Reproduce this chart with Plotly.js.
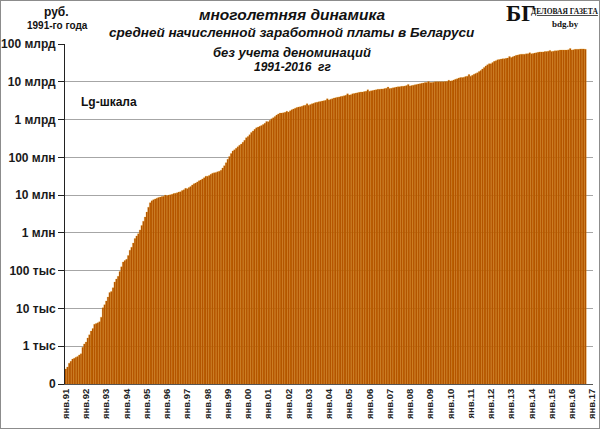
<!DOCTYPE html>
<html>
<head>
<meta charset="utf-8">
<script src="https://cdn.plot.ly/plotly-3.0.1.min.js"></script>
<style>
html,body{margin:0;padding:0;background:#fff;}
#wrap{position:relative;width:600px;height:429px;}
#chart{width:600px;height:429px;}
#frame{position:absolute;left:0;top:0;width:598px;height:427px;border:1px solid #8c8c8c;pointer-events:none;}
</style>
</head>
<body>
<div id="wrap"><div id="chart"></div><div id="frame"></div></div>
<script>
// Month names and years for categories
const monthNames = ['янв','фев','мар','апр','май','июн','июл','авг','сен','окт','ноя','дек'];
const firstYear = 1991, lastYear = 2017;

// Average nominal wage, rubles of 1991 (no denomination), monthly Jan 1991 - Sep 2016
const wages = [
  2.51e2,2.82e2,3.55e2,3.98e2,4.57e2,4.79e2,5.13e2,5.37e2,5.89e2,6.31e2,9.33e2,1.15e3,            // 1991
  1.29e3,1.66e3,2.00e3,2.51e3,2.95e3,3.80e3,3.98e3,4.17e3,4.47e3,5.89e3,1.05e4,1.26e4,            // 1992
  1.58e4,2.00e4,2.63e4,2.82e4,3.55e4,5.01e4,6.03e4,7.08e4,9.55e4,1.26e5,1.70e5,1.86e5,            // 1993
  2.00e5,2.51e5,3.47e5,4.17e5,5.37e5,7.08e5,8.32e5,9.55e5,1.20e6,1.58e6,2.04e6,2.63e6,            // 1994
  3.55e6,4.79e6,6.31e6,7.08e6,7.59e6,7.94e6,8.32e6,8.71e6,8.91e6,9.12e6,9.33e6,1.00e7,            // 1995
  9.55e6,1.00e7,1.02e7,1.05e7,1.10e7,1.12e7,1.15e7,1.20e7,1.23e7,1.32e7,1.38e7,1.51e7,            // 1996
  1.48e7,1.58e7,1.70e7,1.86e7,2.00e7,2.09e7,2.24e7,2.40e7,2.51e7,2.69e7,2.88e7,3.16e7,            // 1997
  3.16e7,3.31e7,3.55e7,3.80e7,3.89e7,3.98e7,4.17e7,4.27e7,4.57e7,5.25e7,6.03e7,7.24e7,            // 1998
  8.91e7,1.05e8,1.26e8,1.48e8,1.58e8,1.74e8,1.91e8,2.09e8,2.24e8,2.51e8,2.82e8,3.31e8,            // 1999
  3.55e8,3.98e8,4.57e8,5.01e8,5.50e8,6.03e8,6.31e8,6.61e8,6.92e8,7.41e8,7.94e8,8.91e8,            // 2000
  8.71e8,9.55e8,1.05e9,1.12e9,1.20e9,1.32e9,1.41e9,1.48e9,1.48e9,1.51e9,1.55e9,1.66e9,            // 2001
  1.58e9,1.70e9,1.82e9,1.91e9,2.00e9,2.09e9,2.14e9,2.19e9,2.24e9,2.34e9,2.40e9,2.63e9,            // 2002
  2.40e9,2.51e9,2.63e9,2.69e9,2.82e9,2.88e9,2.95e9,3.02e9,3.09e9,3.16e9,3.24e9,3.55e9,            // 2003
  3.31e9,3.47e9,3.55e9,3.72e9,3.80e9,3.89e9,3.98e9,4.07e9,4.17e9,4.27e9,4.37e9,4.79e9,            // 2004
  4.47e9,4.57e9,4.79e9,4.90e9,5.01e9,5.13e9,5.25e9,5.37e9,5.37e9,5.50e9,5.62e9,6.17e9,            // 2005
  5.62e9,5.75e9,5.89e9,6.03e9,6.17e9,6.31e9,6.31e9,6.46e9,6.46e9,6.61e9,6.76e9,7.24e9,            // 2006
  6.61e9,6.76e9,6.92e9,7.08e9,7.24e9,7.41e9,7.41e9,7.59e9,7.59e9,7.76e9,7.94e9,8.51e9,            // 2007
  7.76e9,7.94e9,8.13e9,8.32e9,8.51e9,8.71e9,8.91e9,9.12e9,9.33e9,9.55e9,9.55e9,1.02e10,           // 2008
  9.55e9,9.55e9,9.77e9,1.00e10,1.00e10,1.00e10,1.00e10,1.00e10,1.00e10,1.02e10,1.02e10,1.10e10,   // 2009
  1.05e10,1.07e10,1.12e10,1.17e10,1.20e10,1.26e10,1.29e10,1.29e10,1.32e10,1.38e10,1.41e10,1.55e10,// 2010
  1.41e10,1.48e10,1.58e10,1.66e10,1.74e10,1.86e10,2.00e10,2.19e10,2.40e10,2.63e10,2.82e10,3.02e10,// 2011
  3.02e10,3.24e10,3.47e10,3.63e10,3.80e10,3.89e10,3.98e10,4.07e10,4.07e10,4.17e10,4.27e10,4.68e10,// 2012
  4.37e10,4.57e10,4.79e10,5.01e10,5.13e10,5.25e10,5.37e10,5.37e10,5.37e10,5.50e10,5.50e10,5.89e10,// 2013
  5.50e10,5.62e10,5.75e10,5.89e10,6.03e10,6.17e10,6.17e10,6.17e10,6.31e10,6.31e10,6.46e10,6.76e10,// 2014
  6.31e10,6.46e10,6.61e10,6.61e10,6.76e10,6.92e10,6.92e10,6.92e10,6.92e10,6.92e10,7.08e10,7.59e10,// 2015
  6.92e10,7.08e10,7.24e10,7.24e10,7.24e10,7.41e10,7.41e10,7.41e10,7.24e10                          // 2016
];

// Y tick values and labels
const yTickVals = [1e2,1e3,1e4,1e5,1e6,1e7,1e8,1e9,1e10,1e11];
const yTickText = ['0','1 тыс','10 тыс','100 тыс','1 млн','10 млн','100 млн','1 млрд','10 млрд','100 млрд'];

// X tick labels
const xTickText = ['янв.91','янв.92','янв.93','янв.94','янв.95','янв.96','янв.97','янв.98','янв.99','янв.00',
  'янв.01','янв.02','янв.03','янв.04','янв.05','янв.06','янв.07','янв.08','янв.09','янв.10',
  'янв.11','янв.12','янв.13','янв.14','янв.15','янв.16','янв.17'];

// Build category list: Jan 1991 .. Jan 2017
const categories = [];
for (let y = firstYear; y <= lastYear; y++) {
  for (let m = 0; m < 12; m++) {
    if (y === lastYear && m > 0) break;
    categories.push(monthNames[m] + '.' + String(y).slice(2));
  }
}
const xData = categories.slice(0, wages.length);

const trace = {
  type: 'bar',
  x: xData,
  y: wages,
  marker: {color: '#AE4E00', line: {color: '#E89600', width: 0.25}},
  hoverinfo: 'x+y'
};

const axisFont = {family: 'Liberation Sans, Arial, sans-serif', size: 12, color: '#1a1a1a', weight: 'bold'};
const titleFont = {family: 'Liberation Sans, Arial, sans-serif', color: '#111', weight: 'bold', style: 'italic'};

const layout = {
  width: 600, height: 429,
  margin: {l: 65, r: 7, t: 44, b: 45},
  paper_bgcolor: '#ffffff', plot_bgcolor: '#ffffff',
  showlegend: false,
  bargap: 0,
  xaxis: {
    type: 'category',
    categoryorder: 'array',
    categoryarray: categories,
    range: [-0.5, categories.length - 0.5],
    tickmode: 'array',
    tickvals: xTickText,
    ticktext: xTickText,
    tickangle: -90,
    tickfont: {family: 'Liberation Sans, Arial, sans-serif', size: 9.5, color: '#222', weight: 'bold'},
    showgrid: false,
    showline: true, linecolor: '#555', linewidth: 1,
    ticks: '', zeroline: false, fixedrange: true
  },
  yaxis: {
    type: 'log',
    range: [2, 11],
    tickmode: 'array',
    tickvals: yTickVals,
    ticktext: yTickText,
    tickfont: axisFont,
    showgrid: true, gridcolor: '#a6a6a6', gridwidth: 1,
    showline: true, linecolor: '#222', linewidth: 1,
    ticks: 'outside', ticklen: 6, tickcolor: '#222',
    zeroline: false, fixedrange: true
  },
  annotations: [
    {xref:'paper', yref:'paper', x:0.43, y:1 + 30/340, xanchor:'center', yanchor:'middle', showarrow:false,
     text:'многолетняя динамика', font:Object.assign({size:15.5}, titleFont)},
    {xref:'paper', yref:'paper', x:0.43, y:1 + 11/340, xanchor:'center', yanchor:'middle', showarrow:false,
     text:'средней начисленной заработной платы в Беларуси', font:Object.assign({size:13.5}, titleFont)},
    {xref:'paper', yref:'paper', x:0.43, y:1 - 8/340, xanchor:'center', yanchor:'middle', showarrow:false,
     text:'без учета деноминаций', font:Object.assign({size:13}, titleFont)},
    {xref:'paper', yref:'paper', x:0.43, y:1 - 23/340, xanchor:'center', yanchor:'middle', showarrow:false,
     text:'1991-2016  гг', font:Object.assign({size:12}, titleFont)},
    {xref:'paper', yref:'paper', x:-9/528, y:1 + 32/340, xanchor:'center', yanchor:'middle', showarrow:false,
     text:'руб.', font:{family:'Liberation Sans, Arial, sans-serif', size:12, color:'#111', weight:'bold'}},
    {xref:'paper', yref:'paper', x:-8/528, y:1 + 18/340, xanchor:'center', yanchor:'middle', showarrow:false,
     text:'1991-го года', font:{family:'Liberation Sans, Arial, sans-serif', size:10, color:'#111', weight:'bold'}},
    {xref:'paper', yref:'paper', x:14/528, y:1 - 58/340, xanchor:'left', yanchor:'middle', showarrow:false,
     text:'Lg-шкала', font:{family:'Liberation Sans, Arial, sans-serif', size:12, color:'#111', weight:'bold'}},
    {xref:'paper', yref:'paper', x:456/528, y:1 + 31/340, xanchor:'center', yanchor:'middle', showarrow:false,
     text:'БГ', font:{family:'Liberation Serif, Times New Roman, serif', size:23, color:'#111', weight:'bold'}},
    {xref:'paper', yref:'paper', x:499.5/528, y:1 + 32/340, xanchor:'center', yanchor:'middle', showarrow:false,
     text:'<u>ДЕЛОВАЯ ГАЗЕТА</u>', font:{family:'Liberation Serif, Times New Roman, serif', size:7.5, color:'#111', weight:'bold'}},
    {xref:'paper', yref:'paper', x:500/528, y:1 + 20/340, xanchor:'center', yanchor:'middle', showarrow:false,
     text:'bdg.by', font:{family:'Liberation Serif, Times New Roman, serif', size:9, color:'#111', weight:'bold'}}
  ]
};

Plotly.newPlot('chart', [trace], layout, {staticPlot: true, displayModeBar: false});
</script>
</body>
</html>
